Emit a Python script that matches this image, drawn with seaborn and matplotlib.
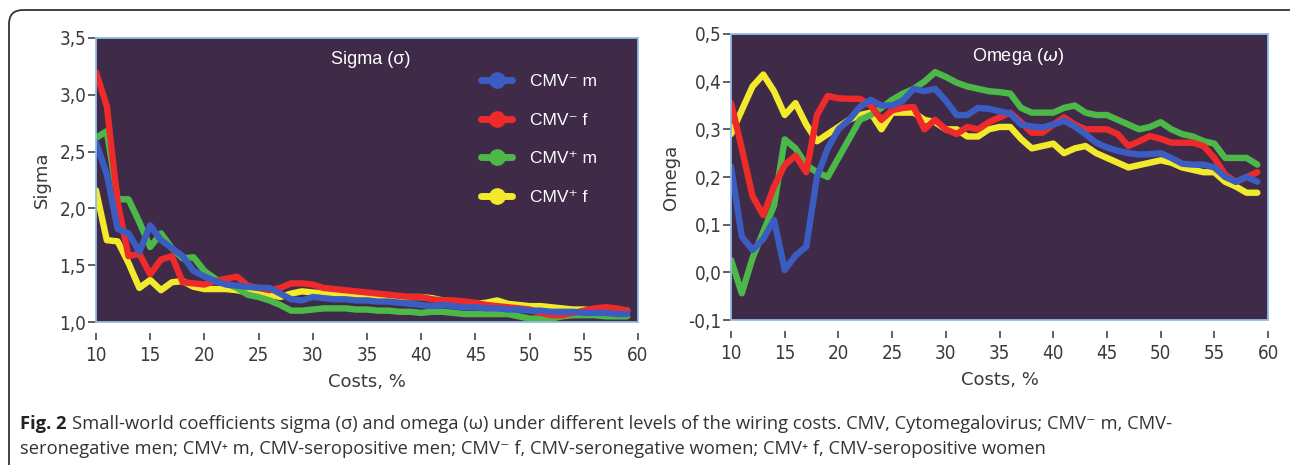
import numpy as np
import pandas as pd
import matplotlib
matplotlib.use("Agg")
import matplotlib.pyplot as plt
from matplotlib.lines import Line2D
from matplotlib.patches import FancyBboxPatch
from matplotlib.transforms import IdentityTransform
import seaborn as sns

# ---------------------------------------------------------------------------
# data, costs in %
# ---------------------------------------------------------------------------
costs = list(range(10, 60))

groups = ["CMV⁻ m", "CMV⁻ f", "CMV⁺ m", "CMV⁺ f"]
colors = ["#3b5cc0", "#ee2a2a", "#4cb847", "#f2ea2a"]

sigma_neg_m = [2.58, 2.30, 1.82, 1.78, 1.62, 1.85, 1.72, 1.65, 1.58, 1.45,
               1.40, 1.36, 1.33, 1.32, 1.31, 1.30, 1.30, 1.25, 1.20, 1.19,
               1.22, 1.21, 1.20, 1.20, 1.19, 1.19, 1.18, 1.18, 1.17, 1.16,
               1.15, 1.14, 1.15, 1.14, 1.13, 1.13, 1.12, 1.12, 1.11, 1.11,
               1.10, 1.10, 1.09, 1.09, 1.09, 1.08, 1.08, 1.08, 1.07, 1.07]
sigma_neg_f = [3.20, 2.90, 2.05, 1.58, 1.60, 1.42, 1.55, 1.58, 1.35, 1.34,
               1.33, 1.36, 1.38, 1.40, 1.32, 1.30, 1.28, 1.30, 1.34, 1.34,
               1.33, 1.30, 1.29, 1.28, 1.27, 1.26, 1.25, 1.24, 1.23, 1.22,
               1.22, 1.20, 1.19, 1.19, 1.18, 1.17, 1.15, 1.14, 1.13, 1.12,
               1.11, 1.08, 1.06, 1.06, 1.08, 1.10, 1.12, 1.13, 1.12, 1.10]
sigma_pos_m = [2.62, 2.68, 2.08, 2.08, 1.88, 1.66, 1.78, 1.65, 1.56, 1.57,
               1.45, 1.38, 1.34, 1.30, 1.24, 1.22, 1.19, 1.15, 1.10, 1.10,
               1.11, 1.12, 1.12, 1.12, 1.11, 1.11, 1.10, 1.10, 1.09, 1.09,
               1.08, 1.09, 1.09, 1.08, 1.07, 1.07, 1.07, 1.07, 1.07, 1.05,
               1.03, 1.03, 1.03, 1.05, 1.06, 1.06, 1.06, 1.05, 1.05, 1.05]
sigma_pos_f = [2.16, 1.72, 1.71, 1.52, 1.30, 1.37, 1.28, 1.35, 1.36, 1.31,
               1.29, 1.29, 1.29, 1.28, 1.26, 1.25, 1.24, 1.22, 1.25, 1.27,
               1.26, 1.25, 1.25, 1.24, 1.24, 1.23, 1.22, 1.22, 1.21, 1.22,
               1.22, 1.21, 1.19, 1.18, 1.17, 1.16, 1.17, 1.19, 1.16, 1.15,
               1.14, 1.14, 1.13, 1.12, 1.11, 1.11, 1.10, 1.10, 1.10, 1.10]

omega_neg_m = [0.222, 0.075, 0.047, 0.070, 0.110, 0.005, 0.035, 0.054, 0.200, 0.260,
               0.300, 0.320, 0.347, 0.362, 0.350, 0.350, 0.360, 0.385, 0.380, 0.385,
               0.360, 0.330, 0.330, 0.345, 0.343, 0.338, 0.333, 0.310, 0.306, 0.304,
               0.310, 0.318, 0.306, 0.290, 0.272, 0.262, 0.255, 0.250, 0.247, 0.248,
               0.250, 0.240, 0.228, 0.226, 0.226, 0.220, 0.200, 0.190, 0.200, 0.190]
omega_neg_f = [0.355, 0.260, 0.160, 0.120, 0.180, 0.225, 0.245, 0.210, 0.330, 0.370,
               0.365, 0.364, 0.364, 0.350, 0.320, 0.340, 0.345, 0.347, 0.300, 0.320,
               0.300, 0.290, 0.305, 0.300, 0.315, 0.325, 0.335, 0.315, 0.293, 0.293,
               0.310, 0.325, 0.310, 0.300, 0.300, 0.300, 0.290, 0.265, 0.275, 0.286,
               0.280, 0.272, 0.272, 0.272, 0.265, 0.240, 0.205, 0.190, 0.200, 0.210]
omega_pos_m = [0.026, -0.044, 0.030, 0.085, 0.140, 0.279, 0.260, 0.225, 0.210, 0.200,
               0.240, 0.280, 0.320, 0.330, 0.345, 0.362, 0.375, 0.385, 0.400, 0.420,
               0.410, 0.398, 0.390, 0.385, 0.380, 0.378, 0.375, 0.345, 0.335, 0.335,
               0.335, 0.345, 0.350, 0.335, 0.330, 0.330, 0.320, 0.310, 0.300, 0.305,
               0.315, 0.300, 0.290, 0.285, 0.275, 0.270, 0.240, 0.240, 0.240, 0.226]
omega_pos_f = [0.290, 0.340, 0.390, 0.415, 0.380, 0.330, 0.355, 0.310, 0.275, 0.290,
               0.305, 0.320, 0.330, 0.335, 0.300, 0.335, 0.335, 0.335, 0.320, 0.315,
               0.300, 0.300, 0.285, 0.285, 0.300, 0.305, 0.305, 0.280, 0.260, 0.265,
               0.270, 0.250, 0.260, 0.265, 0.250, 0.240, 0.230, 0.220, 0.225, 0.230,
               0.235, 0.230, 0.220, 0.215, 0.210, 0.210, 0.190, 0.180, 0.167, 0.167]

x_ticks = [10, 15, 20, 25, 30, 35, 40, 45, 50, 55, 60]
sigma_ticks = [1.0, 1.5, 2.0, 2.5, 3.0, 3.5]
sigma_ticklabels = ["1,0", "1,5", "2,0", "2,5", "3,0", "3,5"]
omega_ticks = [-0.1, 0.0, 0.1, 0.2, 0.3, 0.4, 0.5]
omega_ticklabels = ["-0,1", "0,0", "0,1", "0,2", "0,3", "0,4", "0,5"]

caption_bold = "Fig. 2"
caption_line1 = ("Small-world coefficients sigma (σ) and omega (ω) under different levels "
                 "of the wiring costs. CMV, Cytomegalovirus; CMV⁻ m, CMV-")
caption_line2 = ("seronegative men; CMV⁺ m, CMV-seropositive men; CMV⁻ f, "
                 "CMV-seronegative women; CMV⁺ f, CMV-seropositive women")

# long-form table for seaborn
rows = []
for g, s, o in zip(groups,
                   [sigma_neg_m, sigma_neg_f, sigma_pos_m, sigma_pos_f],
                   [omega_neg_m, omega_neg_f, omega_pos_m, omega_pos_f]):
    for c, sv, ov in zip(costs, s, o):
        rows.append({"cost": c, "sigma": sv, "omega": ov, "group": g})
df = pd.DataFrame(rows)

palette = dict(zip(groups, colors))
draw_order = ["CMV⁺ f", "CMV⁺ m", "CMV⁻ f", "CMV⁻ m"]   # blue ends on top

# ---------------------------------------------------------------------------
# style
# ---------------------------------------------------------------------------
sns.set_style("white")
plt.rcParams["font.family"] = ["DejaVu Sans"]

FACE = "#3f2a48"
EDGE = "#93bce4"
TXT = "#3a3a3a"

fig = plt.figure(figsize=(12.9, 4.65), dpi=100)
ax1 = fig.add_axes([0.0744, 0.3075, 0.4202, 0.6108])
ax2 = fig.add_axes([0.5667, 0.3118, 0.4163, 0.6151])


def style_axes(ax, yticks, yticklabels, ylim, ylabel):
    ax.set_facecolor(FACE)
    for sp in ax.spines.values():
        sp.set_color(EDGE)
        sp.set_linewidth(1.3)
    ax.spines["bottom"].set_visible(False)
    ax.spines["bottom"].set_position(("outward", 8))
    ax.plot([0, 1], [0, 0], transform=ax.transAxes, color=EDGE, lw=1.3,
            clip_on=False, zorder=5)
    ax.set_xlim(10, 60)
    ax.set_ylim(*ylim)
    ax.set_xticks(x_ticks)
    ax.set_xticklabels([str(t) for t in x_ticks])
    ax.set_yticks(yticks)
    ax.set_yticklabels(yticklabels)
    ax.tick_params(axis="x", direction="out", length=5, width=1.3, color="#555555",
                   labelsize=13.5, labelcolor=TXT, pad=4, bottom=True)
    ax.tick_params(axis="y", direction="out", length=6, width=1.3, color="#555555",
                   labelsize=13.5, labelcolor=TXT, pad=1, left=True)
    for lab in ax.get_xticklabels() + ax.get_yticklabels():
        lab.set_fontstretch("condensed")
    ax.set_xlabel("Costs, %", fontsize=13, color=TXT, labelpad=6)
    ax.set_ylabel(ylabel, fontsize=13, color=TXT, labelpad=6)
    ax.grid(False)


sns.lineplot(data=df, x="cost", y="sigma", hue="group", hue_order=draw_order,
             palette=palette, linewidth=4.6, legend=False, ax=ax1)
sns.lineplot(data=df, x="cost", y="omega", hue="group", hue_order=draw_order,
             palette=palette, linewidth=4.6, legend=False, ax=ax2)

style_axes(ax1, sigma_ticks, sigma_ticklabels, (1.0, 3.5), "Sigma")
style_axes(ax2, omega_ticks, omega_ticklabels, (-0.1, 0.5), "Omega")

# in-panel titles
fig.text(371 / 1290, 1 - 60 / 465, "Sigma (σ)", color="white", fontsize=13,
         ha="center", va="center", family=["Liberation Sans", "DejaVu Sans"])
fig.text(1018 / 1290, 1 - 56 / 465, r"Omega ($\omega$)", color="white", fontsize=13,
         ha="center", va="center", family=["Liberation Sans", "DejaVu Sans"])

# legend inside the sigma panel
handles = [Line2D([], [], color=c, lw=5, marker="o", markersize=11) for c in colors]
leg = ax1.legend(handles, groups, loc="upper left",
                 bbox_to_anchor=(481 / 1290, 1 - 74 / 465),
                 bbox_transform=fig.transFigure, frameon=False,
                 labelcolor="white", handlelength=1.8,
                 handletextpad=1.0, labelspacing=1.35, borderpad=0,
                 borderaxespad=0,
                 prop={"family": ["Liberation Sans", "DejaVu Sans"], "size": 12.5})

# caption
cap_font = ["Open Sans", "DejaVu Sans"]
cap_size = 13.2
t_bold = fig.text(20 / 1290, 1 - 429 / 465, caption_bold, fontsize=cap_size,
                  fontweight="bold", color="#222222", family=cap_font, va="baseline")
ax1.annotate(caption_line1, xy=(1, 0), xycoords=t_bold, xytext=(4, 0),
             textcoords="offset points", fontsize=cap_size, color="#333333",
             family=cap_font, va="bottom", ha="left", annotation_clip=False)
fig.text(20 / 1290, 1 - 454 / 465, caption_line2, fontsize=cap_size, color="#333333",
         family=cap_font, va="baseline")

# rounded outer frame (left/top visible, rest runs off the image)
frame = FancyBboxPatch((9, -40), 1400, 465 - 10 + 40,
                       boxstyle="round,pad=0,rounding_size=14",
                       transform=IdentityTransform(), fill=False,
                       edgecolor="#333333", linewidth=1.3)
fig.patches.append(frame)

fig.savefig("out.png", dpi=100)
